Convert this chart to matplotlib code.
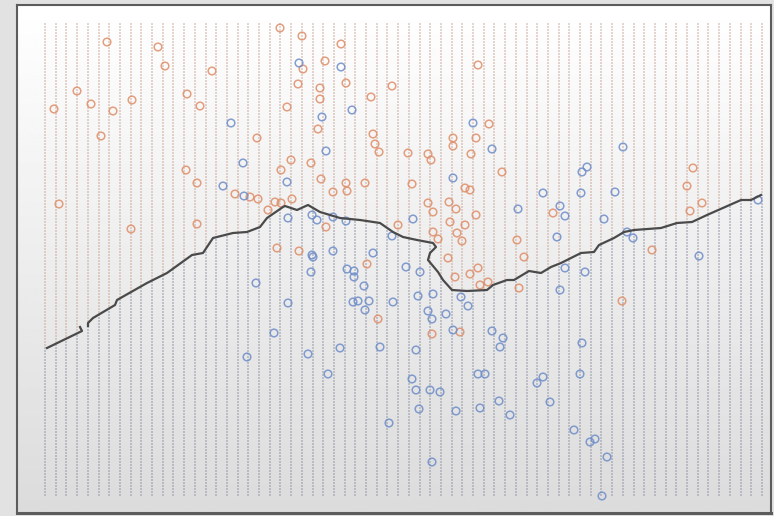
import numpy as np
import matplotlib.pyplot as plt
from matplotlib.path import Path

# class 0 (orange) samples
orange_x = [1.24, 2.26, 2.40, 3.34, 0.64, 0.92, 1.36, 1.74, 0.18, 1.12, 2.84, 3.10,
            2.82, 4.24, 4.70, 5.14, 5.92, 5.60, 5.16, 5.06, 5.50, 5.50, 6.02, 4.84,
            6.94, 6.52, 8.66, 5.46, 8.88, 8.16, 8.62, 8.16, 8.52, 6.56, 6.60, 6.68,
            7.26, 7.66, 7.72, 4.92, 4.72, 5.32, 9.14, 12.96, 0.28, 1.72, 3.04, 3.04,
            3.80, 4.10, 4.26, 5.52, 6.02, 6.04, 5.76, 6.40, 7.34, 8.40, 8.50, 4.60,
            4.72, 4.94, 4.46, 5.62, 7.06, 7.66, 8.08, 7.76, 8.22, 8.62, 8.10, 8.40,
            7.76, 8.24, 7.86, 8.34, 9.44, 8.06, 8.66, 8.50, 8.20, 8.70, 8.86, 9.48,
            4.64, 5.08, 6.44, 6.66, 7.74, 8.30, 10.16, 12.84, 13.14, 12.90, 12.14,
            9.58, 11.54]
orange_y = [9.06, 8.96, 8.58, 8.48, 8.08, 7.82, 7.68, 7.90, 7.72, 7.18, 8.02, 7.78,
            6.50, 7.14, 9.34, 9.18, 9.02, 8.68, 8.52, 8.22, 8.14, 7.92, 8.24, 7.76,
            8.18, 7.96, 8.60, 7.32, 7.42, 7.14, 7.14, 6.98, 6.82, 7.22, 7.02, 6.86,
            6.84, 6.82, 6.70, 6.70, 6.50, 6.64, 6.46, 6.54, 5.82, 5.32, 5.42, 6.24,
            6.02, 5.96, 5.92, 6.32, 6.24, 6.08, 6.06, 6.24, 6.22, 6.14, 6.10, 5.86,
            5.84, 5.92, 5.70, 5.36, 5.40, 5.84, 5.86, 5.66, 5.72, 5.60, 5.46, 5.40,
            5.26, 5.24, 5.12, 5.08, 5.10, 4.74, 4.54, 4.42, 4.36, 4.20, 4.26, 4.14,
            4.94, 4.88, 4.62, 3.52, 3.22, 3.26, 5.64, 6.18, 5.84, 5.68, 4.90,
            4.76, 3.88]

# class 1 (blue) samples
blue_x = [3.72, 3.96, 5.08, 5.92, 6.14, 5.54, 5.62, 8.56, 8.94, 8.16, 11.56, 10.74,
          10.84, 3.56, 3.98, 4.22, 4.84, 4.86, 5.34, 5.44, 5.76, 6.02, 6.94, 7.36,
          5.34, 5.36, 5.76, 6.56, 6.04, 6.18, 6.18, 5.32, 7.22, 7.50, 6.38, 6.16,
          6.26, 6.48, 6.96, 6.40, 4.86, 7.46, 7.76, 8.32, 8.46, 7.66, 7.74, 8.02,
          8.16, 4.58, 8.94, 9.16, 5.90, 6.70, 9.10, 9.96, 10.72, 11.40, 9.46, 10.30,
          10.40, 11.18, 10.24, 11.64, 11.76, 14.26, 10.40, 10.80, 10.30, 13.08, 10.74,
          4.04, 5.26, 7.42, 5.66, 7.34, 7.42, 7.70, 7.90, 8.66, 8.80, 9.08, 8.70,
          8.22, 7.48, 9.30, 6.88, 7.74, 10.70, 9.96, 9.84, 10.10, 10.58, 11.00,
          10.90, 11.24, 11.14]
blue_y = [7.44, 6.64, 8.64, 8.56, 7.70, 7.56, 6.88, 7.44, 6.92, 6.34, 6.96, 6.46,
          6.56, 6.18, 5.98, 4.24, 6.26, 5.54, 5.60, 5.50, 5.56, 5.48, 5.18, 5.52,
          4.80, 4.76, 4.88, 4.84, 4.52, 4.48, 4.36, 4.46, 4.56, 4.46, 4.18, 3.86,
          3.88, 3.88, 3.86, 3.70, 3.84, 3.98, 4.02, 3.96, 3.78, 3.68, 3.52, 3.62,
          3.30, 3.24, 3.28, 3.14, 2.94, 2.96, 2.96, 6.04, 6.04, 6.06, 5.72, 5.78,
          5.58, 5.52, 5.16, 5.26, 5.14, 5.90, 4.54, 4.46, 4.10, 4.78, 3.04,
          2.76, 2.82, 2.90, 2.42, 2.32, 2.10, 2.10, 2.06, 2.42, 2.42, 1.88, 1.74,
          1.68, 1.72, 1.60, 1.44, 0.66, 2.42, 2.36, 2.24, 1.86, 1.30, 1.12,
          1.06, 0.76, -0.02]

# decision boundary, drawn in two pieces (small break near the left end)
bound_a_x = [0.04, 0.74, 0.70]
bound_a_y = [2.94, 3.28, 3.36]
bound_b_x = [0.86, 0.86, 0.96, 1.40, 1.44, 2.04, 2.44, 2.94, 3.16, 3.36, 3.76, 4.04,
             4.30, 4.44, 4.76, 4.80, 5.04, 5.26, 5.50, 5.90, 6.30, 6.70, 6.96, 7.16,
             7.44, 7.76, 7.82, 7.70, 7.66, 7.86, 7.96, 8.14, 8.44, 8.84, 8.96, 9.24,
             9.38, 9.68, 9.92, 10.12, 10.32, 10.72, 10.98, 11.08, 11.38, 11.58, 11.78,
             12.32, 12.64, 12.94, 13.24, 13.92, 14.12, 14.32]
bound_b_y = [3.38, 3.44, 3.54, 3.80, 3.90, 4.24, 4.44, 4.80, 4.84, 5.14, 5.24, 5.26,
             5.36, 5.54, 5.76, 5.78, 5.70, 5.80, 5.66, 5.54, 5.50, 5.44, 5.26, 5.16,
             5.10, 5.04, 4.96, 4.84, 4.70, 4.46, 4.30, 4.10, 4.08, 4.10, 4.20, 4.30,
             4.30, 4.48, 4.44, 4.56, 4.64, 4.84, 4.86, 5.00, 5.14, 5.26, 5.30,
             5.34, 5.44, 5.46, 5.60, 5.90, 5.90, 6.00]

# prediction mesh
x_min, x_max, nx = 0.0, 14.34, 68
y_min, y_max, ny = 0.0, 9.42, 158

orange = '#df8e69'
blue = '#6f8dca'

fig = plt.figure(figsize=(7.74, 5.16), dpi=100)
fig.patch.set_facecolor('#e2e2e2')
ax = fig.add_axes([17 / 774, 3 / 516, 754 / 774, 508 / 516])
ax.set_xlim(-0.56, 14.52)
ax.set_ylim(-0.36, 9.8)

# soft vertical background shading
shade = np.linspace(0.86, 1.0, 256).reshape(-1, 1)
ax.imshow(shade, cmap='gray', vmin=0, vmax=1, aspect='auto',
          extent=[-0.56, 14.52, -0.36, 9.8], origin='lower', zorder=0)

# classify mesh points: above the boundary -> orange class
bx = bound_a_x + bound_b_x
by = bound_a_y + bound_b_y
poly = [(-1.0, by[0])] + list(zip(bx, by)) + [(16.0, by[-1]), (16.0, 12.0), (-1.0, 12.0)]
gx, gy = np.meshgrid(np.linspace(x_min, x_max, nx), np.linspace(y_min, y_max, ny))
pts = np.column_stack([gx.ravel(), gy.ravel()])
upper = Path(poly).contains_points(pts)

ax.scatter(pts[upper, 0], pts[upper, 1], s=1.2, marker='s', color='#c9a391',
           alpha=0.45, linewidths=0, zorder=1)
ax.scatter(pts[~upper, 0], pts[~upper, 1], s=1.2, marker='s', color='#8a909e',
           alpha=0.45, linewidths=0, zorder=1)

ax.scatter(orange_x, orange_y, s=30, facecolors='none', edgecolors=orange,
           linewidths=1.1, alpha=0.85, zorder=3)
ax.scatter(blue_x, blue_y, s=30, facecolors='none', edgecolors=blue,
           linewidths=1.1, alpha=0.85, zorder=3)

ax.plot(bound_a_x, bound_a_y, color='#4a4a4a', lw=1.6, zorder=4)
ax.plot(bound_b_x, bound_b_y, color='#4a4a4a', lw=1.6, zorder=4)

ax.set_xticks([])
ax.set_yticks([])
for side, sp in ax.spines.items():
    sp.set_color('#5c5c5c')
    sp.set_linewidth(1.5)
ax.spines['bottom'].set_linewidth(2.2)

plt.savefig('out.png', dpi=100)
